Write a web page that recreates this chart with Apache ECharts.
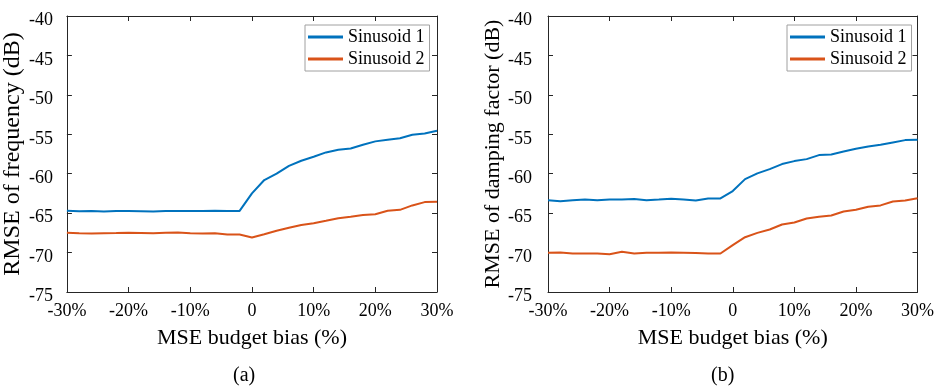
<!DOCTYPE html>
<html>
<head>
<meta charset="utf-8">
<script src="https://cdn.jsdelivr.net/npm/echarts@6/dist/echarts.min.js"></script>
<style>
html,body{margin:0;padding:0;background:#fff;}
#chart{width:937px;height:387px;}
</style>
</head>
<body>
<div id="chart"></div>
<script>
// ---- data ----
var biasPct = [-30,-28,-26,-24,-22,-20,-18,-16,-14,-12,-10,-8,-6,-4,-2,0,2,4,6,8,10,12,14,16,18,20,22,24,26,28,30];
var xTicks = [-30,-20,-10,0,10,20,30];
var yTicks = [-75,-70,-65,-60,-55,-50,-45,-40];
var seriesNames = ['Sinusoid 1','Sinusoid 2'];

// (a) RMSE of frequency (dB)
var freqSin1 = [-64.70,-64.75,-64.72,-64.80,-64.72,-64.72,-64.75,-64.78,-64.74,-64.73,-64.72,-64.72,-64.70,-64.72,-64.72,
                -62.50,-60.80,-60.00,-59.00,-58.35,-57.85,-57.30,-56.97,-56.80,-56.33,-55.90,-55.70,-55.50,-55.06,-54.90,-54.55];
var freqSin2 = [-67.50,-67.55,-67.58,-67.55,-67.53,-67.50,-67.52,-67.55,-67.50,-67.45,-67.55,-67.58,-67.55,-67.70,-67.72,
                -68.08,-67.67,-67.24,-66.86,-66.50,-66.27,-65.97,-65.64,-65.47,-65.25,-65.13,-64.70,-64.58,-64.02,-63.60,-63.56];
// (b) RMSE of damping factor (dB)
var dampSin1 = [-63.35,-63.48,-63.35,-63.27,-63.35,-63.27,-63.27,-63.22,-63.35,-63.27,-63.18,-63.27,-63.39,-63.14,-63.14,
                -62.20,-60.69,-59.96,-59.42,-58.78,-58.40,-58.15,-57.64,-57.56,-57.18,-56.84,-56.54,-56.33,-56.03,-55.74,-55.69];
var dampSin2 = [-70.03,-69.99,-70.12,-70.12,-70.12,-70.20,-69.90,-70.12,-70.03,-70.03,-69.99,-70.03,-70.07,-70.12,-70.12,
                -69.06,-68.05,-67.50,-67.07,-66.44,-66.19,-65.68,-65.47,-65.30,-64.79,-64.58,-64.20,-64.02,-63.52,-63.39,-63.10];

var xTitle = 'MSE budget bias (%)';
var yTitles = ['RMSE of frequency (dB)','RMSE of damping factor (dB)'];
var captions = ['(a)','(b)'];

// ---- chart ----
var FONT = "'Liberation Serif','Times New Roman',serif";
var AX = '#262626';
var colors = ['#0072BD','#D95319'];

function pairs(xs, ys){ return xs.map(function(x,i){ return [x, ys[i]]; }); }

function xAx(grid, show){
  return {
    type:'value', gridIndex:grid, min:xTicks[0], max:xTicks[xTicks.length-1], interval:10,
    position: show ? 'bottom' : 'top',
    name: show ? xTitle : '', nameLocation:'middle', nameGap:35,
    nameTextStyle:{fontFamily:FONT, fontSize:22, color:'#000'},
    axisLine:{show:true, onZero:false, lineStyle:{color:AX, width:1}},
    axisTick:{show:true, inside:true, length:5, lineStyle:{color:AX}},
    axisLabel:{show:show, margin:10, fontFamily:FONT, fontSize:18, color:'#000',
      formatter:function(v){ return v===0 ? '0' : v+'%'; }},
    splitLine:{show:false}
  };
}
function yAx(grid, show, title, gap, margin, nameSize){
  return {
    type:'value', gridIndex:grid, min:yTicks[0], max:yTicks[yTicks.length-1], interval:5,
    position: show ? 'left' : 'right',
    name: show ? title : '', nameLocation:'middle', nameGap:gap,
    nameTextStyle:{fontFamily:FONT, fontSize:nameSize||22, color:'#000'},
    axisLine:{show:true, onZero:false, lineStyle:{color:AX, width:1}},
    axisTick:{show:true, inside:true, length:5, lineStyle:{color:AX}},
    axisLabel:{show:show, margin:margin, fontFamily:FONT, fontSize:18, color:'#000',
      formatter:function(v){ return '{t|' + v + '}'; },
      rich:{t:{fontFamily:FONT, fontSize:18, color:'#000', padding:[9,0,0,0]}}},
    splitLine:{show:false}
  };
}
function legend(left){
  return {
    left:left, top:25, orient:'vertical', data:seriesNames,
    icon:'rect', itemWidth:35, itemHeight:3, itemGap:2, itemTextGap:3,
    padding:[2,5,2,3],
    borderColor:'#a0a0a0', borderWidth:1, backgroundColor:'#fff',
    textStyle:{fontFamily:FONT, fontSize:18, color:'#000', lineHeight:20}
  };
}
function line(name, xi, yi, data, c){
  return {
    name:name, type:'line', xAxisIndex:xi, yAxisIndex:yi, data:data,
    symbol:'none', showSymbol:false, color:c, lineStyle:{width:2, color:c}, z:2, animation:false
  };
}

var chart = echarts.init(document.getElementById('chart'), null, {renderer:'canvas'});
chart.setOption({
  animation:false,
  backgroundColor:'#fff',
  grid:[
    {left:65, right:500, top:16, bottom:95},
    {left:548, right:19, top:16, bottom:95}
  ],
  xAxis:[xAx(0,true), xAx(0,false), xAx(1,true), xAx(1,false)],
  yAxis:[yAx(0,true,yTitles[0],32,14,24), yAx(0,false,'',0,0), yAx(1,true,yTitles[1],38,16,22), yAx(1,false,'',0,0)],
  legend:[legend(305), legend(787)],
  series:[
    line(seriesNames[0],0,0,pairs(biasPct,freqSin1),colors[0]),
    line(seriesNames[1],0,0,pairs(biasPct,freqSin2),colors[1]),
    line(seriesNames[0],2,2,pairs(biasPct,dampSin1),colors[0]),
    line(seriesNames[1],2,2,pairs(biasPct,dampSin2),colors[1])
  ],
  graphic:[
    {type:'text', left:233, top:366, style:{text:captions[0], font:'20px '+FONT, fill:'#000'}},
    {type:'text', left:711, top:366, style:{text:captions[1], font:'20px '+FONT, fill:'#000'}}
  ]
});
</script>
</body>
</html>
